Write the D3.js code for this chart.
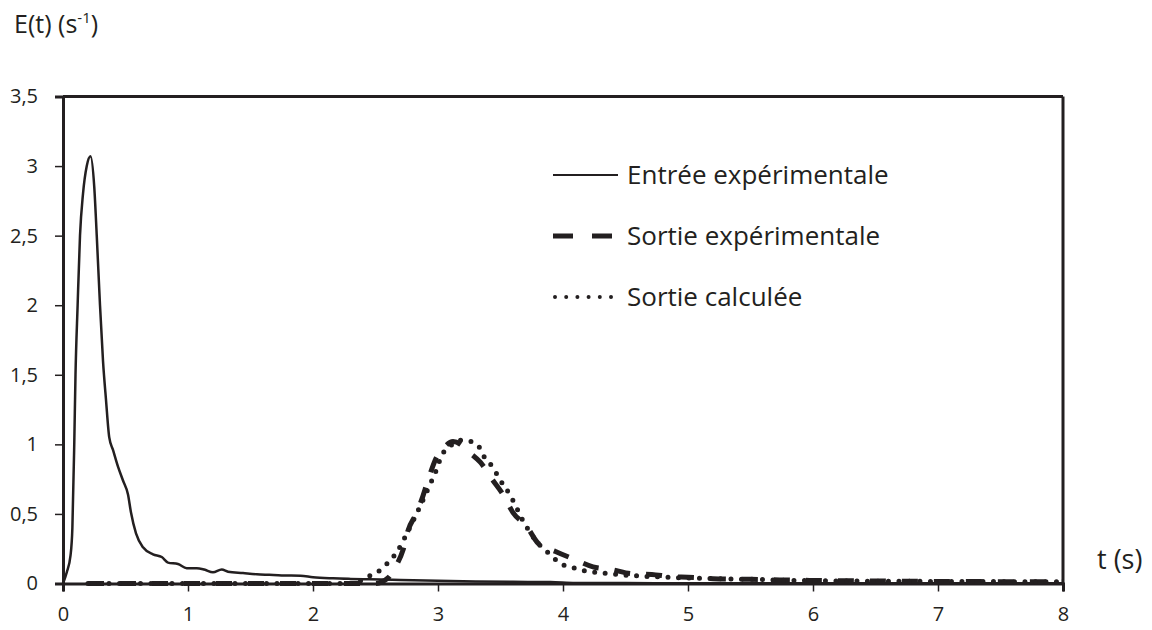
<!DOCTYPE html>
<html><head><meta charset="utf-8">
<script src="https://cdn.jsdelivr.net/npm/d3@7"></script>
<style>body{margin:0;background:#fff}svg{display:block}text{font-family:"Open Sans",sans-serif;fill:#231f20}</style>
</head><body><svg id="c" width="1152" height="630"></svg>
<script>
const xTicks = [0,1,2,3,4,5,6,7,8];
const yTicks = [0,0.5,1,1.5,2,2.5,3,3.5];
const seriesNames = ["Entrée expérimentale","Sortie expérimentale","Sortie calculée"];
const entreeT = [0,0.03,0.06,0.075,0.09,0.1,0.117,0.136,0.16,0.19,0.22,0.25,0.27,0.296,0.32,0.344,0.37,0.40,0.44,0.48,0.52,0.544,0.584,0.64,0.72,0.79,0.84,0.92,0.99,1.07,1.13,1.2,1.27,1.32,1.44,1.55,1.65,1.75,1.9,2.0,2.16,2.3,2.45,2.7,3.0,3.3,3.6,3.9,4.1,4.5,5,6,7,8];
const entreeE = [0,0.08,0.2,0.4,1.0,1.5,2.0,2.5,2.8,3.0,3.07,2.85,2.5,2.0,1.6,1.32,1.05,0.96,0.84,0.74,0.64,0.51,0.36,0.26,0.21,0.19,0.15,0.14,0.11,0.11,0.1,0.08,0.1,0.085,0.075,0.066,0.062,0.058,0.056,0.045,0.037,0.033,0.03,0.025,0.02,0.015,0.012,0.01,0.004,0.003,0.002,0.002,0.002,0.002];
const sortieExpT = [0.2,2.0,2.5,2.6,2.66,2.72,2.76,2.83,2.88,2.93,2.99,3.05,3.12,3.18,3.24,3.34,3.44,3.52,3.6,3.71,3.8,3.94,4.1,4.24,4.39,4.55,4.71,4.86,5.0,5.2,5.5,6.0,6.5,7.0,7.5,8.0];
const sortieExpE = [0,0,0,0.04,0.12,0.24,0.38,0.51,0.63,0.77,0.91,0.98,1.02,1.0,0.95,0.87,0.74,0.64,0.51,0.41,0.29,0.23,0.17,0.12,0.1,0.07,0.065,0.05,0.045,0.035,0.03,0.022,0.018,0.015,0.013,0.012];
const sortieCalcT = [0.2,2.3,2.38,2.44,2.52,2.59,2.65,2.7,2.74,2.8,2.86,2.92,2.98,3.03,3.1,3.18,3.27,3.33,3.37,3.43,3.5,3.58,3.62,3.68,3.75,3.81,3.87,3.93,4.01,4.1,4.18,4.27,4.37,4.5,4.7,5.0,5.5,6,7,8];
const sortieCalcE = [0,0,0.02,0.05,0.085,0.14,0.2,0.27,0.34,0.45,0.56,0.68,0.8,0.92,0.99,1.03,1.02,0.98,0.91,0.845,0.74,0.63,0.56,0.45,0.35,0.28,0.23,0.18,0.13,0.11,0.09,0.08,0.07,0.06,0.05,0.04,0.03,0.02,0.015,0.012];

const svg = d3.select("#c");
const L=63, R=1063, T=96.5, B=583.5;
const x = d3.scaleLinear().domain([0,8]).range([L,R]);
const y = d3.scaleLinear().domain([0,3.5]).range([B,T]);
const ink = "#231f20";

svg.append("line").attr("x1",L).attr("x2",R).attr("y1",T).attr("y2",T).attr("stroke",ink).attr("stroke-width",3);
svg.append("line").attr("x1",R).attr("x2",R).attr("y1",T).attr("y2",B).attr("stroke",ink).attr("stroke-width",3);

const xAxis = svg.append("g").attr("transform",`translate(0,${B})`)
  .call(d3.axisBottom(x).tickValues(xTicks).tickSize(8).tickPadding(15).tickFormat(d=>d));
const yAxis = svg.append("g").attr("transform",`translate(${L},0)`)
  .call(d3.axisLeft(y).tickValues(yTicks).tickSize(8).tickPadding(17).tickFormat(d=>String(d).replace(".",",")));
[xAxis,yAxis].forEach(g=>{
  g.select(".domain").attr("stroke",ink).attr("stroke-width",3);
  g.selectAll(".tick line").attr("stroke",ink).attr("stroke-width",1.5);
  g.selectAll("text").attr("font-size",20).attr("fill",ink).style("font-family","'Open Sans',sans-serif");
});

const line = d3.line().x(d=>x(d[0])).y(d=>y(d[1])).curve(d3.curveMonotoneX);
const zip = (a,b)=>a.map((v,i)=>[v,b[i]]);

svg.append("path").datum(zip(entreeT,entreeE)).attr("d",line).attr("fill","none").attr("stroke",ink).attr("stroke-width",2.5);
svg.append("path").datum(zip(sortieExpT,sortieExpE)).attr("d",line).attr("fill","none").attr("stroke",ink).attr("stroke-width",5).attr("stroke-dasharray","16 16").attr("stroke-linecap","butt");
svg.append("path").datum(zip(sortieCalcT,sortieCalcE)).attr("d",line).attr("fill","none").attr("stroke",ink).attr("stroke-width",5).attr("stroke-dasharray","0 10.5").attr("stroke-linecap","round");

const legY = [175,236,297];
const lg = svg.append("g");
lg.append("line").attr("x1",553).attr("x2",618).attr("y1",legY[0]).attr("y2",legY[0]).attr("stroke",ink).attr("stroke-width",2);
lg.append("line").attr("x1",553).attr("x2",613).attr("y1",legY[1]).attr("y2",legY[1]).attr("stroke",ink).attr("stroke-width",5).attr("stroke-dasharray","20 19");
lg.append("line").attr("x1",555).attr("x2",612).attr("y1",legY[2]).attr("y2",legY[2]).attr("stroke",ink).attr("stroke-width",4).attr("stroke-dasharray","0 11.2").attr("stroke-linecap","round");
seriesNames.forEach((n,i)=>{
  lg.append("text").attr("x",627).attr("y",legY[i]).attr("dy","0.35em").attr("font-size",26).text(n);
});

const yt = svg.append("text").attr("x",14).attr("y",33).attr("font-size",25);
yt.append("tspan").text("E(t) (s");
yt.append("tspan").attr("font-size",15).attr("dy",-10).text("-1");
yt.append("tspan").attr("dy",10).text(")");
svg.append("text").attr("x",1097).attr("y",569).attr("font-size",27).text("t (s)");
</script></body></html>
